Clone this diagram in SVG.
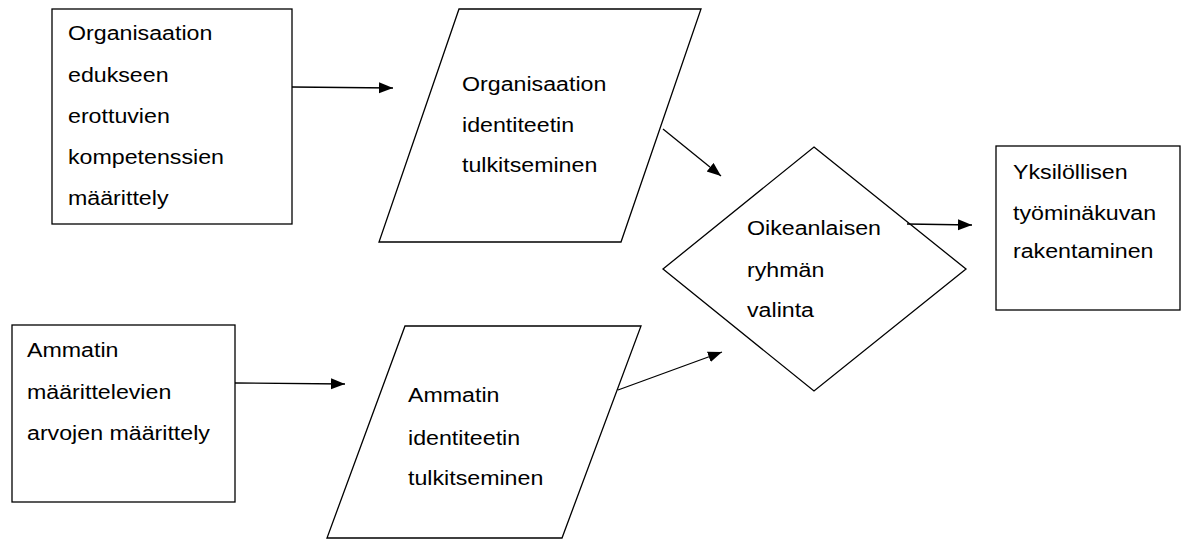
<svg xmlns="http://www.w3.org/2000/svg" width="1182" height="540" viewBox="0 0 1182 540">
<style>
.shape{fill:#fff;stroke:#000;stroke-width:1.3}
.conn{fill:none;stroke:#000;stroke-width:1.3}
.lbl{font-family:"Liberation Sans",Arial,sans-serif;font-size:20px;fill:#000}
</style>
<defs>
<marker id="arr" markerUnits="userSpaceOnUse" markerWidth="15" markerHeight="12" refX="14" refY="5.5" orient="auto">
<path d="M0,0 L14,5.5 L0,11 Z" fill="#000"/>
</marker>
</defs>
<rect width="1182" height="540" fill="#fff"/>
<g id="n1">
<rect class="shape" x="52" y="9" width="240" height="215"/>
<text class="lbl" transform="translate(68,0) scale(1.16,1)"><tspan x="0" y="40">Organisaation</tspan><tspan x="0" y="82">edukseen</tspan><tspan x="0" y="123">erottuvien</tspan><tspan x="0" y="164">kompetenssien</tspan><tspan x="0" y="205">määrittely</tspan></text>
</g>
<g id="n2">
<polygon class="shape" points="459,9 701,9 621,242 379,242"/>
<text class="lbl" transform="translate(462,0) scale(1.16,1)"><tspan x="0" y="91">Organisaation</tspan><tspan x="0" y="132">identiteetin</tspan><tspan x="0" y="172">tulkitseminen</tspan></text>
</g>
<g id="n3">
<rect class="shape" x="12" y="325" width="223" height="177"/>
<text class="lbl" transform="translate(27,0) scale(1.16,1)"><tspan x="0" y="357">Ammatin</tspan><tspan x="0" y="399">määrittelevien</tspan><tspan x="0" y="440">arvojen määrittely</tspan></text>
</g>
<g id="n4">
<polygon class="shape" points="405,326 641,326 562,538 327,538"/>
<text class="lbl" transform="translate(408,0) scale(1.16,1)"><tspan x="0" y="402">Ammatin</tspan><tspan x="0" y="445">identiteetin</tspan><tspan x="0" y="485">tulkitseminen</tspan></text>
</g>
<g id="n5">
<polygon class="shape" points="814,147 966,269 814,391 663,269"/>
<text class="lbl" transform="translate(747,0) scale(1.16,1)"><tspan x="0" y="235">Oikeanlaisen</tspan><tspan x="0" y="277">ryhmän</tspan><tspan x="0" y="317">valinta</tspan></text>
</g>
<g id="n6">
<rect class="shape" x="996" y="146" width="184" height="164"/>
<text class="lbl" transform="translate(1013,0) scale(1.16,1)"><tspan x="0" y="179">Yksilöllisen</tspan><tspan x="0" y="220">työminäkuvan</tspan><tspan x="0" y="258">rakentaminen</tspan></text>
</g>
<g id="connectors">
<line class="conn" x1="292" y1="87" x2="393" y2="88" marker-end="url(#arr)"/>
<line class="conn" x1="663" y1="129" x2="721" y2="176" marker-end="url(#arr)"/>
<line class="conn" x1="235" y1="383" x2="345" y2="384" marker-end="url(#arr)"/>
<line class="conn" x1="618" y1="390" x2="722" y2="352" marker-end="url(#arr)"/>
<line class="conn" x1="907" y1="224" x2="972" y2="225" marker-end="url(#arr)"/>
</g>
</svg>
